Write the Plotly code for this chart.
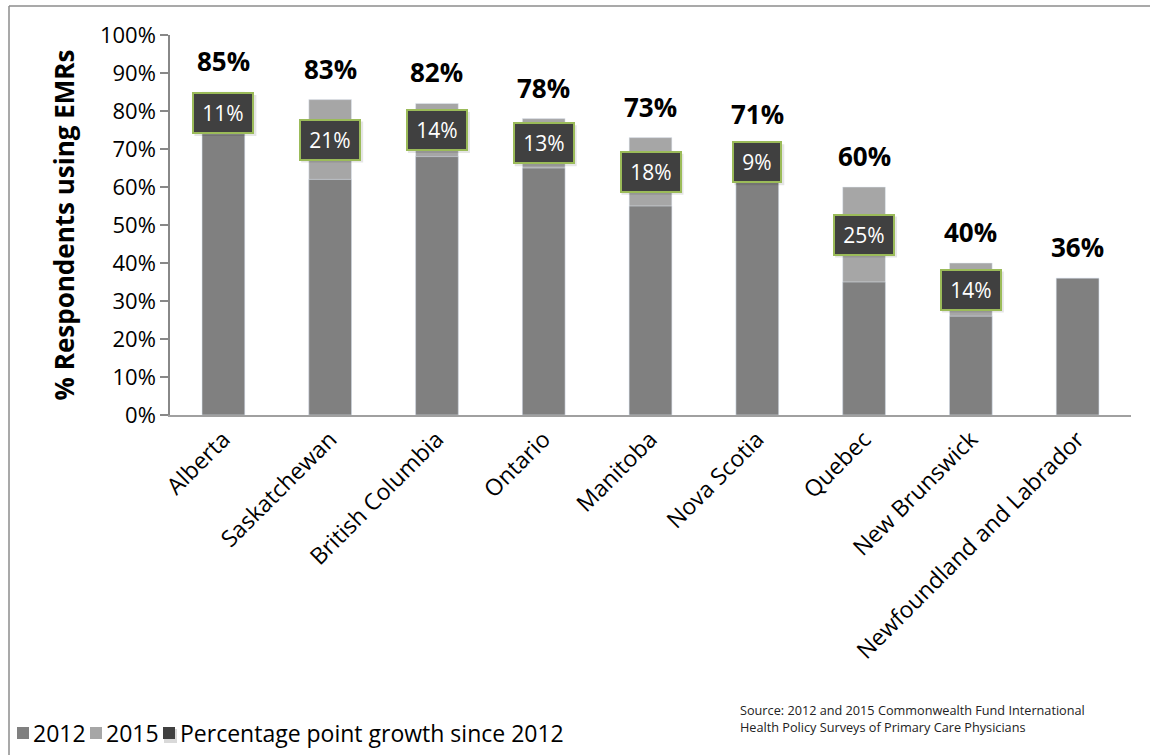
import plotly.graph_objects as go

categories = ["Alberta", "Saskatchewan", "British Columbia", "Ontario", "Manitoba",
              "Nova Scotia", "Quebec", "New Brunswick", "Newfoundland and Labrador"]
v2015 = [85, 83, 82, 78, 73, 71, 60, 40, 36]
growth = [11, 21, 14, 13, 18, 9, 25, 14, None]
v2012 = [74, 62, 68, 65, 55, 62, 35, 26, 36]
yticks = [0, 10, 20, 30, 40, 50, 60, 70, 80, 90, 100]
ytick_labels = [f"{t}%" for t in yticks]
legend_labels = ["2012", "2015", "Percentage point growth since 2012"]

FONT = "Open Sans, Lato, sans-serif"
C2012 = "#808080"
C2015 = "#A6A6A6"
CGROW = "#404040"
GREEN = "#9BBB59"
legend_colors = [C2012, C2015, CGROW]

W, H = 1150, 755
L, R, T, B = 170, 19, 35, 340
pw, ph = W - L - R, H - T - B

def px_x(p):
    return (p - L) / pw

def px_y(p):
    return (H - B - p) / ph

fig = go.Figure()
fig.add_trace(go.Bar(x=categories, y=v2015, name="2015", marker_color=C2015,
                     width=0.4, showlegend=False))
fig.add_trace(go.Bar(x=categories, y=v2012, name="2012", marker_color=C2012,
                     width=0.4, showlegend=False))

annotations = []
shapes = []
for c, top, g, base in zip(categories, v2015, growth, v2012):
    annotations.append(dict(x=c, y=top, xref="x", yref="y", text=f"<b>{top}%</b>",
                            showarrow=False, yshift=31, yanchor="middle",
                            font=dict(family=FONT, size=26, color="#000000")))
    if g is not None:
        bw = 62 if g >= 10 else 50
        mid = (top + base) / 2
        # soft shadow behind the label box
        shapes.append(dict(type="rect", xref="x", yref="y",
                           xsizemode="pixel", ysizemode="pixel",
                           xanchor=c, yanchor=mid,
                           x0=-bw / 2 + 2, x1=bw / 2 + 2, y0=-21 - 2, y1=20 - 2,
                           fillcolor="rgba(0,0,0,0.10)", line=dict(width=0),
                           layer="above"))
        annotations.append(dict(x=c, y=mid, xref="x", yref="y",
                                text=f"{g}%", showarrow=False,
                                bgcolor=CGROW, bordercolor=GREEN, borderwidth=2,
                                borderpad=5, width=bw - 14,
                                font=dict(family=FONT, size=21, color="#FFFFFF")))

annotations.append(dict(x=px_x(738), y=px_y(718), xref="paper", yref="paper",
                        xanchor="left", yanchor="middle", align="left", showarrow=False,
                        text="Source: 2012 and 2015 Commonwealth Fund International<br>"
                             "Health Policy Surveys of Primary Care Physicians",
                        font=dict(family=FONT, size=12.7, color="#222222")))

shapes += [
    dict(type="line", xref="paper", yref="paper", x0=px_x(9), x1=px_x(9),
         y0=px_y(6), y1=px_y(760), line=dict(color="#8C8C8C", width=1.5)),
    dict(type="line", xref="paper", yref="paper", x0=px_x(9), x1=px_x(1160),
         y0=px_y(6), y1=px_y(6), line=dict(color="#8C8C8C", width=1.5)),
]

# custom legend
sq_x = [17, 90, 163]
txt_x = [31, 104, 178]
ly = 733
for lab, col, sx, tx in zip(legend_labels, legend_colors, sq_x, txt_x):
    if col == CGROW:
        shapes.append(dict(type="rect", xref="paper", yref="paper",
                           x0=px_x(sx + 1), x1=px_x(sx + 14), y0=px_y(ly - 4), y1=px_y(ly + 10),
                           fillcolor="rgba(0,0,0,0.15)", line=dict(width=0)))
    shapes.append(dict(type="rect", xref="paper", yref="paper",
                       x0=px_x(sx), x1=px_x(sx + 12), y0=px_y(ly - 6), y1=px_y(ly + 6),
                       fillcolor=col, line=dict(width=0)))
    annotations.append(dict(x=px_x(tx), y=px_y(ly), xref="paper", yref="paper",
                            xanchor="left", yanchor="middle", showarrow=False,
                            text=lab, font=dict(family=FONT, size=23, color="#000000")))

fig.update_layout(
    width=W, height=H,
    margin=dict(l=L, r=R, t=T, b=B, autoexpand=False),
    barmode="overlay",
    showlegend=False,
    paper_bgcolor="white", plot_bgcolor="white",
    font=dict(family=FONT, color="#000000"),
    annotations=annotations,
    shapes=shapes,
    xaxis=dict(showline=True, linecolor="#A0A0A0", linewidth=1.5, ticks="",
               tickangle=-45, tickfont=dict(family=FONT, size=23, color="#000000"),
               showgrid=False, range=[-0.5, len(categories) - 0.5]),
    yaxis=dict(range=[0, 100], tickvals=yticks, ticktext=ytick_labels,
               showline=True, linecolor="#888888", linewidth=1.5,
               ticks="outside", ticklen=8, tickcolor="#888888", tickwidth=1.5,
               showgrid=False, zeroline=False,
               tickfont=dict(family=FONT, size=22, color="#000000"),
               title=dict(text="<b>% Respondents using EMRs</b>", standoff=18,
                          font=dict(family=FONT, size=26, color="#000000"))),
)

fig.write_html("out.html")
